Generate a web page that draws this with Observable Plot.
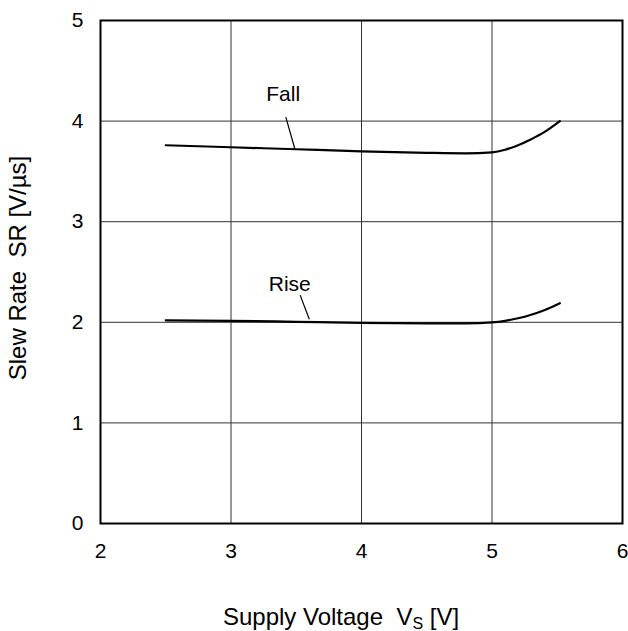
<!DOCTYPE html>
<html>
<head>
<meta charset="utf-8">
<script src="https://cdn.jsdelivr.net/npm/d3@7"></script>
<script src="https://cdn.jsdelivr.net/npm/@observablehq/plot@0.6"></script>
<style>
body { margin: 0; background: #fff; }
svg { font-family: "Liberation Sans", Arial, sans-serif; }
</style>
</head>
<body>
<div id="chart"></div>
<script>
const fallX = [2.5, 3.0, 3.5, 4.0, 4.5, 4.8, 5.0, 5.1, 5.2, 5.3, 5.4, 5.52];
const fallY = [3.76, 3.74, 3.72, 3.70, 3.685, 3.68, 3.69, 3.715, 3.76, 3.82, 3.89, 4.00];
const riseX = [2.5, 3.0, 3.5, 4.0, 4.5, 4.8, 5.0, 5.1, 5.2, 5.3, 5.4, 5.52];
const riseY = [2.02, 2.015, 2.005, 1.995, 1.99, 1.99, 2.0, 2.015, 2.04, 2.075, 2.12, 2.19];
const xTicks = [2, 3, 4, 5, 6];
const yTicks = [0, 1, 2, 3, 4, 5];
const labels = [
  {text: "Fall", x: 3.4, y: 4.27, lx1: 3.42, ly1: 4.04, lx2: 3.49, ly2: 3.72},
  {text: "Rise", x: 3.45, y: 2.38, lx1: 3.53, ly1: 2.27, lx2: 3.6, ly2: 2.03}
];

const fall = fallX.map((x, i) => ({x, y: fallY[i]}));
const rise = riseX.map((x, i) => ({x, y: riseY[i]}));

const plot = Plot.plot({
  width: 628,
  height: 631,
  marginLeft: 100,
  marginRight: 6,
  marginTop: 20,
  marginBottom: 108,
  style: {fontSize: "21px", fontFamily: "Liberation Sans, Arial, sans-serif", color: "#000"},
  x: {domain: [2, 6], label: null},
  y: {domain: [0, 5], label: null},
  marks: [
    Plot.ruleX(xTicks.slice(1, -1), {stroke: "#333", strokeWidth: 1}),
    Plot.ruleY(yTicks.slice(1, -1), {stroke: "#333", strokeWidth: 1}),
    Plot.line(fall, {x: "x", y: "y", curve: "monotone-x", stroke: "#000", strokeWidth: 2.2}),
    Plot.line(rise, {x: "x", y: "y", curve: "monotone-x", stroke: "#000", strokeWidth: 2.2}),
    Plot.link(labels, {x1: "lx1", y1: "ly1", x2: "lx2", y2: "ly2", stroke: "#000", strokeWidth: 1.2}),
    Plot.text(labels, {x: "x", y: "y", text: "text", fontSize: 21, fill: "#000"}),
    Plot.frame({stroke: "#000", strokeWidth: 2}),
    Plot.axisX({ticks: xTicks, tickFormat: "d", tickSize: 0, tickPadding: 20, fontSize: 21, label: null}),
    Plot.axisY({ticks: yTicks, tickFormat: "d", tickSize: 0, tickPadding: 17, fontSize: 21, label: null})
  ]
});

const svg = d3.select(plot);
svg.append("text")
  .attr("x", 341).attr("y", 625)
  .attr("text-anchor", "middle")
  .style("font-size", "24px")
  .attr("fill", "#000")
  .html('Supply Voltage  V<tspan dy="4" style="font-size:16px">S</tspan><tspan dy="-4"> [V]</tspan>');
svg.append("text")
  .attr("transform", "translate(26,268) rotate(-90)")
  .attr("text-anchor", "middle")
  .style("font-size", "24px")
  .attr("fill", "#000")
  .text("Slew Rate  SR [V/\u00b5s]");

document.getElementById("chart").appendChild(plot);
</script>
</body>
</html>
